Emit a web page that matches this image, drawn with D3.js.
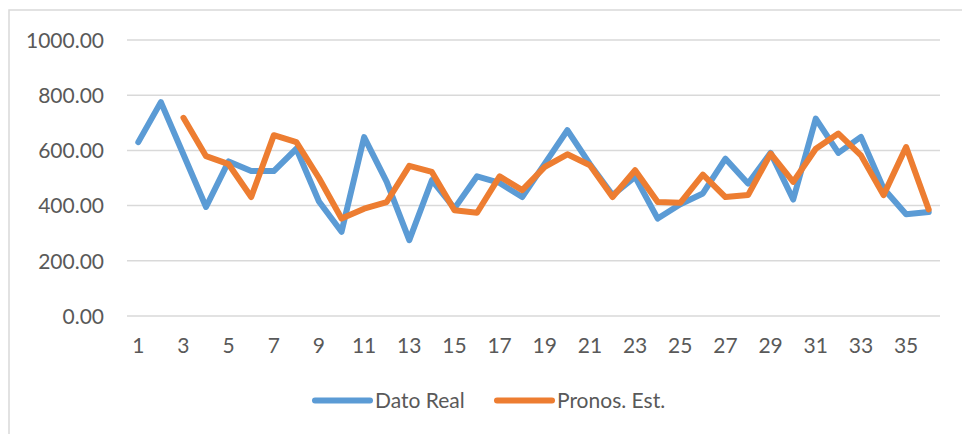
<!DOCTYPE html>
<html><head><meta charset="utf-8">
<script src="https://cdn.jsdelivr.net/npm/d3@7"></script>
<style>
html,body{margin:0;padding:0;background:#fff;}
svg{display:block;}
</style></head>
<body><svg id="c" width="962" height="434"></svg>
<script>
const categories = d3.range(1, 37);
const datoReal = [630,775,585,395,560,525,525,606,415,305,648,486,275,492,390,506,482,431,552,673,550,438,504,353,405,444,570,480,591,422,715,591,649,462,369,377];
const pronosEst = [null,null,718,579,550,431,655,630,500,353,389,413,544,522,383,374,506,456,540,586,546,431,528,413,410,512,431,438,588,486,606,661,582,438,612,386];
const yTicks = [0,200,400,600,800,1000];
const xTickLabels = categories.filter(d => d % 2 === 1);
const seriesNames = ["Dato Real","Pronos. Est."];
const colors = ["#5B9BD5","#ED7D31"];

const svg = d3.select("#c");
const font = "Lato, 'Open Sans', sans-serif";
const textColor = "#595959";

// chart border
svg.append("rect").attr("x",9).attr("y",10).attr("width",1000).attr("height",500)
  .attr("fill","none").attr("stroke","#d9d9d9").attr("stroke-width",1.5);

const x = d3.scaleBand().domain(categories).range([127,940]);
const y = d3.scaleLinear().domain([0,1000]).range([316,40]);

// gridlines
svg.append("g").selectAll("line").data(yTicks).join("line")
  .attr("x1",127).attr("x2",940)
  .attr("y1",d=>y(d)).attr("y2",d=>y(d))
  .attr("stroke","#d9d9d9").attr("stroke-width",1.5);

// y axis
const yAxis = d3.axisLeft(y).tickValues(yTicks).tickFormat(d3.format(".2f")).tickSize(0).tickPadding(0);
const gy = svg.append("g").attr("transform","translate(104,0)").call(yAxis);
gy.select(".domain").remove();
gy.selectAll("text").attr("font-family",font).attr("font-size",21).attr("fill",textColor).attr("dy","0.35em");

// x axis
const xAxis = d3.axisBottom(x).tickValues(xTickLabels).tickSize(0).tickPadding(0);
const gx = svg.append("g").attr("transform","translate(0,338)").call(xAxis);
gx.select(".domain").remove();
gx.selectAll("text").attr("font-family",font).attr("font-size",21).attr("fill",textColor).attr("dy","0.71em");

const cx = d => x(d) + x.bandwidth()/2;
const line = d3.line().defined(d => d.v != null).x(d => cx(d.c)).y(d => y(d.v));

[datoReal, pronosEst].forEach((arr,i) => {
  svg.append("path")
    .datum(categories.map((c,j)=>({c, v: arr[j]})))
    .attr("d", line)
    .attr("fill","none").attr("stroke",colors[i]).attr("stroke-width",6)
    .attr("stroke-linejoin","round").attr("stroke-linecap","round");
});

// legend
const legendX = [315, 497];
seriesNames.forEach((n,i)=>{
  svg.append("line").attr("x1",legendX[i]).attr("x2",legendX[i]+55).attr("y1",400.5).attr("y2",400.5)
    .attr("stroke",colors[i]).attr("stroke-width",6).attr("stroke-linecap","round");
  svg.append("text").attr("x",legendX[i]+60).attr("y",400.5).attr("dy","0.35em")
    .attr("font-family",font).attr("font-size",21).attr("fill",textColor).text(n);
});
</script></body></html>
